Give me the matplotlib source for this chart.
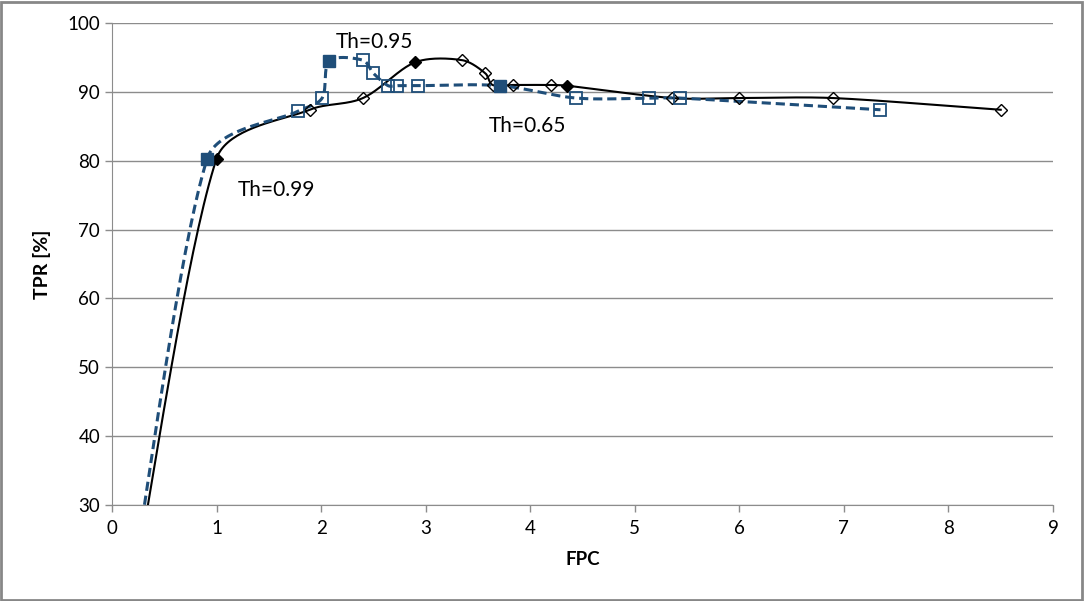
import numpy as np
import matplotlib
matplotlib.use("Agg")
import matplotlib.pyplot as plt
from matplotlib.patches import Rectangle

# black series (solid, diamonds) - first point lies below the visible range
black_fpc = [0.0, 1.00, 1.89, 2.40, 2.90, 3.35, 3.57, 3.64, 3.84, 4.20, 4.35, 5.36, 6.00, 6.90, 8.50]
black_tpr = [0.0, 80.3, 87.4, 89.1, 94.3, 94.6, 92.7, 91.0, 91.0, 91.0, 90.9, 89.1, 89.1, 89.1, 87.4]
black_filled = [1, 4, 10]

# blue series (dashed, squares)
blue_fpc = [0.0, 0.91, 1.78, 2.01, 2.08, 2.40, 2.50, 2.64, 2.73, 2.93, 3.71, 4.44, 5.14, 5.43, 7.35]
blue_tpr = [0.0, 80.3, 87.2, 89.1, 94.5, 94.6, 92.7, 90.9, 90.9, 90.9, 90.9, 89.1, 89.1, 89.1, 87.4]
blue_filled = [1, 4, 10]

labels = ["Th=0.99", "Th=0.95", "Th=0.65"]
label_pos = [(1.2, 75.8), (2.14, 97.2), (3.6, 85.0)]

BLUE = "#1f4e79"
GRID = "#8c8c8c"

# pixel size of one data unit, used so the smoothing works in screen space
PX_X = 104.6
PX_Y = 6.89


def tangents(p):
    # Catmull-Rom tangent at every point, shortened on the side of a short segment
    m = len(p)
    t_in = np.zeros_like(p)
    t_out = np.zeros_like(p)
    for i in range(m):
        a = p[i - 1] if i > 0 else p[i]
        b = p[i + 1] if i + 1 < m else p[i]
        tan = (b - a) / 6
        if i == 0 or i == m - 1:
            tan = (b - a) / 3
        d_prev = np.linalg.norm(p[i] - a)
        d_next = np.linalg.norm(b - p[i])
        tot = max(d_prev + d_next, 1e-9)
        t_in[i] = tan * min(1.0, 2 * d_prev / tot) if i > 0 and i < m - 1 else tan
        t_out[i] = tan * min(1.0, 2 * d_next / tot) if i > 0 and i < m - 1 else tan
    return t_in, t_out


def smooth(x, y, n=40):
    p = np.column_stack([np.array(x) * PX_X, np.array(y) * PX_Y]).astype(float)
    t_in, t_out = tangents(p)
    pts = [p[0]]
    t = np.linspace(0, 1, n)[1:, None]
    for i in range(len(p) - 1):
        p1, p2 = p[i], p[i + 1]
        c1 = p1 + t_out[i]
        c2 = p2 - t_in[i + 1]
        seg = ((1 - t) ** 3) * p1 + 3 * ((1 - t) ** 2) * t * c1 + 3 * (1 - t) * t ** 2 * c2 + t ** 3 * p2
        pts.extend(seg)
    pts = np.array(pts)
    return pts[:, 0] / PX_X, pts[:, 1] / PX_Y


plt.rcParams["font.family"] = ["Lato", "DejaVu Sans"]

fig = plt.figure(figsize=(10.84, 6.01), dpi=100)
ax = fig.add_axes([112 / 1084, 1 - 505 / 601, (1053 - 112) / 1084, (505 - 23) / 601])

sx, sy = smooth(black_fpc, black_tpr)
ax.plot(sx, sy, color="black", lw=1.5, zorder=3)
sx, sy = smooth(blue_fpc, blue_tpr)
ax.plot(sx, sy, color=BLUE, lw=2.2, ls=(0, (3, 1.6)), zorder=3)

bf = np.array(black_fpc)
bt = np.array(black_tpr)
open_b = [i for i in range(len(bf)) if i not in black_filled]
ax.plot(bf[open_b], bt[open_b], ls="none", marker="D", ms=6, mfc="none", mec="black", mew=1.0, zorder=4)
ax.plot(bf[black_filled], bt[black_filled], ls="none", marker="D", ms=6, mfc="black", mec="black", zorder=4)

lf = np.array(blue_fpc)
lt = np.array(blue_tpr)
open_l = [i for i in range(len(lf)) if i not in blue_filled]
ax.plot(lf[open_l], lt[open_l], ls="none", marker="s", ms=8, mfc="none", mec=BLUE, mew=1.3, zorder=4)
ax.plot(lf[blue_filled], lt[blue_filled], ls="none", marker="s", ms=8, mfc=BLUE, mec=BLUE, zorder=4)

for txt, (tx, ty) in zip(labels, label_pos):
    ax.text(tx, ty, txt, fontsize=15, ha="left", va="center", color="black")

ax.set_xlim(0, 9)
ax.set_ylim(30, 100)
ax.set_xticks(range(0, 10))
ax.set_yticks(range(30, 101, 10))
ax.yaxis.grid(True, color=GRID, lw=1)
ax.set_axisbelow(True)
for s in ["top", "right"]:
    ax.spines[s].set_visible(False)
for s in ["left", "bottom"]:
    ax.spines[s].set_color(GRID)
ax.tick_params(axis="both", colors=GRID, labelcolor="black", labelsize=13.5, length=5, width=1)
ax.tick_params(axis="x", pad=6)
ax.set_xlabel("FPC", fontsize=13.5, fontweight="bold", labelpad=10)
ax.set_ylabel("TPR [%]", fontsize=14, fontweight="bold", labelpad=12)

fig.patches.append(Rectangle((0.001, 0.002), 0.997, 0.995, transform=fig.transFigure,
                             fill=False, edgecolor="#878787", lw=2))

fig.savefig("out.png", dpi=100)
